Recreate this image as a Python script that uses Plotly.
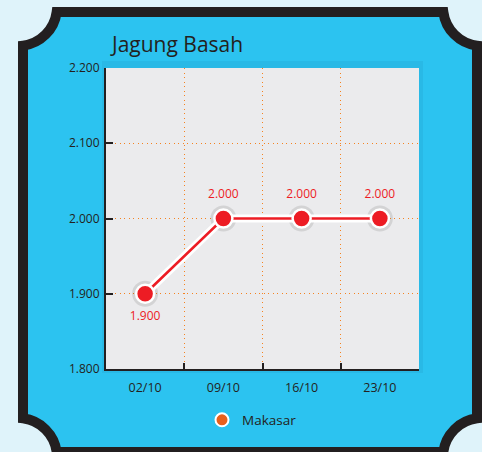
import numpy as np
import plotly.graph_objects as go

# ---- data ----
dates = ["02/10", "09/10", "16/10", "23/10"]
prices = [1900, 2000, 2000, 2000]
series_name = "Makasar"
title_text = "Jagung Basah"
y_ticks = [1800, 1900, 2000, 2100, 2200]

W, H = 482, 452
ML, MR, MT, MB = 106, 63, 68, 83
PW, PH = W - ML - MR, H - MT - MB

RED = "#ED1C24"
DARK = "#231F20"
ORANGE = "#F58220"
DOTS = "1.3px,3.2px"


def px2paper(x, y):
    return (x - ML) / PW, (H - MB - y) / PH


def arc_bezier(cx, cy, r, a0, a1):
    k = 4.0 / 3.0 * np.tan((a1 - a0) / 4.0) * r
    p0 = np.array([cx + r * np.cos(a0), cy + r * np.sin(a0)])
    p3 = np.array([cx + r * np.cos(a1), cy + r * np.sin(a1)])
    t0 = np.array([-np.sin(a0), np.cos(a0)])
    t1 = np.array([-np.sin(a1), np.cos(a1)])
    p1 = p0 + k * t0
    p2 = p3 - k * t1
    return p0, p1, p2, p3


def frame_path():
    L, T, R, B = 23, 12, 477, 452
    r = 39.0
    d = np.sqrt(r * r - 25.0)
    ang = np.arcsin(5.0 / r)

    def P(x, y):
        a, b = px2paper(x, y)
        return f"{a:.5f},{b:.5f}"

    segs = ["M" + P(18 + d, T), "L" + P(482 - d, T)]
    _, p1, p2, p3 = arc_bezier(482, 7, r, np.pi - ang, np.pi / 2 + ang)
    segs.append("C" + P(*p1) + " " + P(*p2) + " " + P(*p3))
    segs.append("L" + P(R, 457 - d))
    _, p1, p2, p3 = arc_bezier(482, 457, r, 1.5 * np.pi - ang, np.pi + ang)
    segs.append("C" + P(*p1) + " " + P(*p2) + " " + P(*p3))
    segs.append("L" + P(18 + d, B))
    _, p1, p2, p3 = arc_bezier(18, 457, r, 2 * np.pi - ang, 1.5 * np.pi + ang)
    segs.append("C" + P(*p1) + " " + P(*p2) + " " + P(*p3))
    segs.append("L" + P(L, 7 + d))
    _, p1, p2, p3 = arc_bezier(18, 7, r, np.pi / 2 - ang, ang)
    segs.append("C" + P(*p1) + " " + P(*p2) + " " + P(*p3))
    segs.append("Z")
    return " ".join(segs)


fig = go.Figure()

# marker shadow + value labels
fig.add_trace(go.Scatter(
    x=dates, y=prices, mode="markers+text", showlegend=False, hoverinfo="skip",
    marker=dict(size=26, color="rgba(0,0,0,0.10)", line=dict(width=0)),
    texttemplate="%{y:,.0f}",
    textposition=["bottom center", "top center", "top center", "top center"],
    textfont=dict(color=RED, size=12),
))
# white halo line
fig.add_trace(go.Scatter(
    x=dates, y=prices, mode="lines", showlegend=False, hoverinfo="skip",
    line=dict(color="white", width=8),
))
# main series
fig.add_trace(go.Scatter(
    x=dates, y=prices, mode="lines+markers", name=series_name, showlegend=False,
    line=dict(color=RED, width=2.5),
    marker=dict(size=18, color=RED, line=dict(color="white", width=2.5)),
))
# legend entry
fig.add_trace(go.Scatter(
    x=[None], y=[None], mode="markers", name=series_name,
    marker=dict(size=13, color="#E8601C", line=dict(color="white", width=2)),
))

sx0, sy0 = px2paper(102, 61)
sx1, sy1 = px2paper(423, 373)
fig.update_layout(
    width=W, height=H,
    margin=dict(l=ML, r=MR, t=MT, b=MB),
    paper_bgcolor="#DFF3FA",
    plot_bgcolor="#EBEBED",
    separators=",.",
    font=dict(family="Open Sans, Noto Sans, sans-serif", color=DARK, size=12),
    title=dict(text=title_text, x=112 / W, xanchor="left", y=1 - 45 / H, yanchor="middle",
               font=dict(size=21, color=DARK)),
    showlegend=True,
    legend=dict(orientation="h", x=(202 - ML) / PW, xanchor="left",
                y=(H - MB - 420) / PH, yanchor="middle",
                font=dict(size=13.5, color=DARK), bgcolor="rgba(0,0,0,0)"),
    shapes=[
        dict(type="path", xref="paper", yref="paper", path=frame_path(),
             fillcolor="#2CC3F0", line=dict(color=DARK, width=10), layer="below"),
        dict(type="rect", xref="paper", yref="paper", x0=sx0, y0=sy0, x1=sx1, y1=sy1,
             fillcolor="rgba(10,90,130,0.09)", line=dict(width=0), layer="below"),
        dict(type="rect", xref="paper", yref="paper", x0=0, y0=0, x1=1, y1=1,
             fillcolor="#EBEBED", line=dict(width=0), layer="below"),
    ],
    xaxis=dict(
        type="category", categoryorder="array", categoryarray=dates,
        range=[-0.5, len(dates) - 0.5],
        showline=True, linecolor=DARK, linewidth=2,
        ticks="inside", tickson="boundaries", ticklen=6, tickcolor=DARK, tickwidth=2,
        showgrid=True, gridcolor=ORANGE, griddash=DOTS, gridwidth=1.3,
        tickfont=dict(size=12.5, color=DARK), ticklabelstandoff=6,
        fixedrange=True, zeroline=False,
    ),
    yaxis=dict(
        range=[1800, 2200], tickvals=y_ticks, tickformat=",.0f",
        showline=True, linecolor=DARK, linewidth=2,
        ticks="inside", ticklen=7, tickcolor=DARK, tickwidth=2,
        showgrid=True, gridcolor=ORANGE, griddash=DOTS, gridwidth=1.3,
        tickfont=dict(size=12, color=DARK), ticklabelstandoff=2,
        zeroline=False, fixedrange=True,
    ),
)

fig.write_html("out.html")
